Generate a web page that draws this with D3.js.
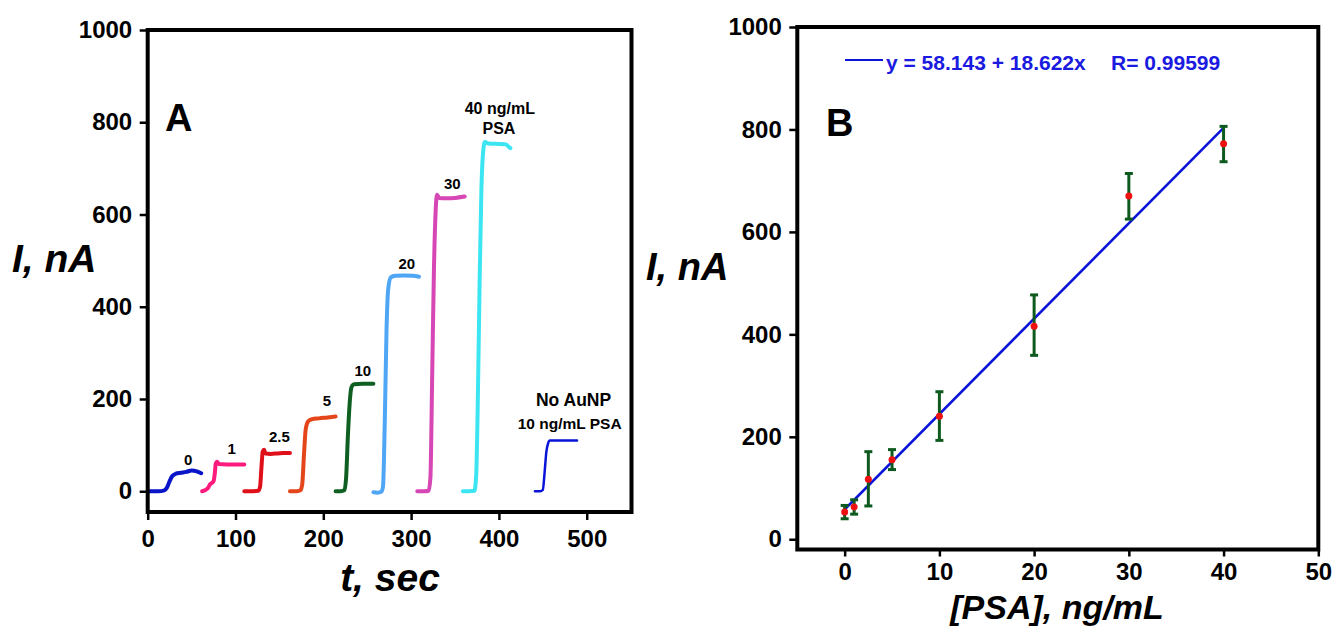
<!DOCTYPE html>
<html>
<head>
<meta charset="utf-8">
<script src="https://cdn.jsdelivr.net/npm/d3@7"></script>
<style>
  body { margin: 0; background: #fff; }
  svg { display: block; font-family: "Liberation Sans", Arial, Helvetica, sans-serif; }
</style>
</head>
<body>
<script>
// ---- panel A data: current steps, [t (sec), I (nA)]
let step0 = [[1, 0], [12, 0], [19, 2], [22, 8], [25, 22], [28, 33], [32, 38], [38, 40], [44, 42], [50, 45], [56, 43], [61, 39]];
let step1 = [[62, 0], [66, 3], [69, 8], [71, 15], [73, 18], [75, 22], [76.5, 40], [77.5, 60], [79, 64], [81, 59], [90, 58], [100, 58], [110, 58]];
let step2p5 = [[110, 0], [120, 0], [126, 1], [128, 10], [129.5, 50], [131, 86], [132.5, 90], [134, 82], [140, 81], [148, 82], [155, 83], [162, 83]];
let step5 = [[162, 0], [170, 0], [174, 2], [176, 15], [178, 80], [180, 135], [183, 152], [187, 156], [195, 158], [205, 160], [214, 162]];
let step10 = [[214, 0], [220, 0], [224, 2], [226, 30], [228, 120], [230, 190], [232, 225], [235, 232], [245, 233], [257, 233]];
let step20 = [[257, -2], [262, -3], [266, -1], [268, 10], [270, 150], [272, 350], [274, 440], [277, 464], [282, 467], [292, 468], [302, 467], [309, 465]];
let step30 = [[307, 0], [315, 0], [320, 1], [322, 30], [324, 250], [326, 480], [328, 610], [329.5, 643], [332, 636], [340, 635], [350, 636], [361, 639]];
let step40 = [[359, 0], [366, 0], [372, 1], [374, 30], [376, 200], [378, 450], [380, 650], [382, 735], [384, 757], [388, 754], [400, 753], [408, 752], [411, 747], [413, 744]];
let stepNoAuNP = [[441, 0], [447, 0], [450, 3], [452, 40], [454, 85], [456, 104], [458, 110], [470, 110], [489, 110]];

let stepSeries = [step0, step1, step2p5, step5, step10, step20, step30, step40, stepNoAuNP];
let stepColors = ["#0a14c8", "#ff1a7d", "#e0101a", "#e4461a", "#0f5f22", "#4ea6f5", "#d646b4", "#3be6f2", "#0a14d8"];

// labels next to each step, anchored in data units [t, I]
let stepLabelText = ["0", "1", "2.5", "5", "10", "20", "30", "40 ng/mL", "PSA", "No AuNP", "10 ng/mL PSA"];
let stepLabelT = [46, 95.6, 150, 204, 245, 295, 347, 401, 400, 485, 480.6];
let stepLabelI = [69, 93, 118, 196, 262, 494, 667, 830, 787, 199, 146];

let tickA_x = [0, 100, 200, 300, 400, 500];
let tickA_y = [0, 200, 400, 600, 800, 1000];

// ---- panel B data: calibration
let psaConc = [0, 1, 2.5, 5, 10, 20, 30, 40];
let psaCurrent = [53, 63, 117, 155, 240, 416, 670, 772];
let errLow = [40, 49, 65, 136, 193, 359, 625, 737];
let errHigh = [66, 77, 171, 175, 288, 477, 714, 806];
let fitIntercept = 58.143;
let fitSlope = 18.622;
let fitR = 0.99599;

let tickB_x = [0, 10, 20, 30, 40, 50];
let tickB_y = [0, 200, 400, 600, 800, 1000];

let width = 1337;
let height = 629;
let frameStroke = 4;
let tickFont = 24;

let svg = d3
  .select("body")
  .append("svg")
  .attr("width", width)
  .attr("height", height);

let xA = d3.scaleLinear().domain([0, 551]).range([147.7, 631.5]);
let yA = d3.scaleLinear().domain([-45, 1000]).range([512, 30]);

let xB = d3.scaleLinear().domain([-5, 50]).range([797.3, 1318.3]);
let yB = d3.scaleLinear().domain([-20, 1000]).range([549.5, 27]);

function drawFrame(x, y) {
  let [x0, x1] = x.range();
  let [y0, y1] = y.range();
  svg
    .append("rect")
    .attr("x", x0)
    .attr("y", y1)
    .attr("width", x1 - x0)
    .attr("height", y0 - y1)
    .attr("fill", "none")
    .attr("stroke", "#000")
    .attr("stroke-width", frameStroke);
}

function styleAxis(g) {
  g.select(".domain").remove();
  g.selectAll(".tick line").attr("stroke", "#000").attr("stroke-width", 2.5);
  g.selectAll(".tick text")
    .attr("fill", "#000")
    .style("font-size", tickFont + "px")
    .style("font-weight", "bold");
}

function drawAxes(x, y, xTicks, yTicks, xPad, xTickLen) {
  let bottom = y.range()[0];
  let left = x.range()[0];
  let fmt = d3.format("d");
  svg
    .append("g")
    .attr("transform", "translate(0," + bottom + ")")
    .call(
      d3.axisBottom(x).tickValues(xTicks).tickFormat(fmt)
        .tickSize(xTickLen).tickSizeOuter(0).tickPadding(xPad)
    )
    .call(styleAxis);
  svg
    .append("g")
    .attr("transform", "translate(" + left + ",0)")
    .call(
      d3.axisLeft(y).tickValues(yTicks).tickFormat(fmt)
        .tickSize(8).tickSizeOuter(0).tickPadding(7.5)
    )
    .call(styleAxis);
}

function addText(str, x, y, size, opts) {
  opts = opts || {};
  return svg
    .append("text")
    .attr("x", x)
    .attr("y", y)
    .attr("text-anchor", opts.anchor || "start")
    .attr("fill", opts.fill || "#000")
    .style("font-size", size + "px")
    .style("font-weight", "bold")
    .style("font-style", opts.italic ? "italic" : "normal")
    .text(str);
}

// ---------------- panel A ----------------
let stepLine = d3
  .line()
  .x(function(d) {
    return xA(d[0]);
  })
  .y(function(d) {
    return yA(d[1]);
  })
  .curve(d3.curveMonotoneX);

svg
  .append("g")
  .selectAll("path")
  .data(stepSeries)
  .enter()
  .append("path")
  .attr("d", stepLine)
  .attr("fill", "none")
  .attr("stroke", function(d, i) {
    return stepColors[i];
  })
  .attr("stroke-width", function(d, i) {
    return i === stepSeries.length - 1 ? 2.5 : 4;
  })
  .attr("stroke-linejoin", "round")
  .attr("stroke-linecap", "round");

let labelSizes = [15, 15, 15, 15, 15, 15, 15, 16, 16, 17.5, 15.5];
stepLabelText.forEach(function(s, i) {
  let size = labelSizes[i];
  addText(s, xA(stepLabelT[i]), yA(stepLabelI[i]) + size * 0.36, size, { anchor: "middle" });
});

drawFrame(xA, yA);
drawAxes(xA, yA, tickA_x, tickA_y, 10, 8);

addText("A", 165, 131, 38);
addText("I, nA", 12, 272, 39, { italic: true });
addText("t, sec", 390, 591, 39, { italic: true, anchor: "middle" });

// ---------------- panel B ----------------
let fitLine = d3
  .line()
  .x(function(d) {
    return xB(d);
  })
  .y(function(d) {
    return yB(fitIntercept + fitSlope * d);
  });

svg
  .append("path")
  .attr("d", fitLine([psaConc[0], psaConc[psaConc.length - 1]]))
  .attr("fill", "none")
  .attr("stroke", "#0a14d8")
  .attr("stroke-width", 2.6);

let errColor = "#0e5a1e";
let capHalf = 4;
let bars = svg
  .append("g")
  .selectAll("g")
  .data(psaConc)
  .enter()
  .append("g");

bars
  .append("line")
  .attr("x1", function(d) { return xB(d); })
  .attr("x2", function(d) { return xB(d); })
  .attr("y1", function(d, i) { return yB(errLow[i]); })
  .attr("y2", function(d, i) { return yB(errHigh[i]); })
  .attr("stroke", errColor)
  .attr("stroke-width", 3);

[errLow, errHigh].forEach(function(arr) {
  bars
    .append("line")
    .attr("x1", function(d) { return xB(d) - capHalf; })
    .attr("x2", function(d) { return xB(d) + capHalf; })
    .attr("y1", function(d, i) { return yB(arr[i]); })
    .attr("y2", function(d, i) { return yB(arr[i]); })
    .attr("stroke", errColor)
    .attr("stroke-width", 3);
});

bars
  .append("circle")
  .attr("cx", function(d) { return xB(d); })
  .attr("cy", function(d, i) { return yB(psaCurrent[i]); })
  .attr("r", 3.5)
  .attr("fill", "#ee1111");

drawFrame(xB, yB);
drawAxes(xB, yB, tickB_x, tickB_y, 6.5, 7);

// legend
svg
  .append("line")
  .attr("x1", 845)
  .attr("x2", 883)
  .attr("y1", 60)
  .attr("y2", 60)
  .attr("stroke", "#0a14d8")
  .attr("stroke-width", 2);
addText("y = " + fitIntercept + " + " + fitSlope + "x", 886, 70, 21, { fill: "#1a1ae0" });
addText("R= " + fitR, 1111, 70, 21, { fill: "#1a1ae0" });

addText("B", 826, 136, 38);
addText("I, nA", 646, 280, 38, { italic: true });
addText("[PSA], ng/mL", 1057, 619, 34, { italic: true, anchor: "middle" });
</script>
</body>
</html>
